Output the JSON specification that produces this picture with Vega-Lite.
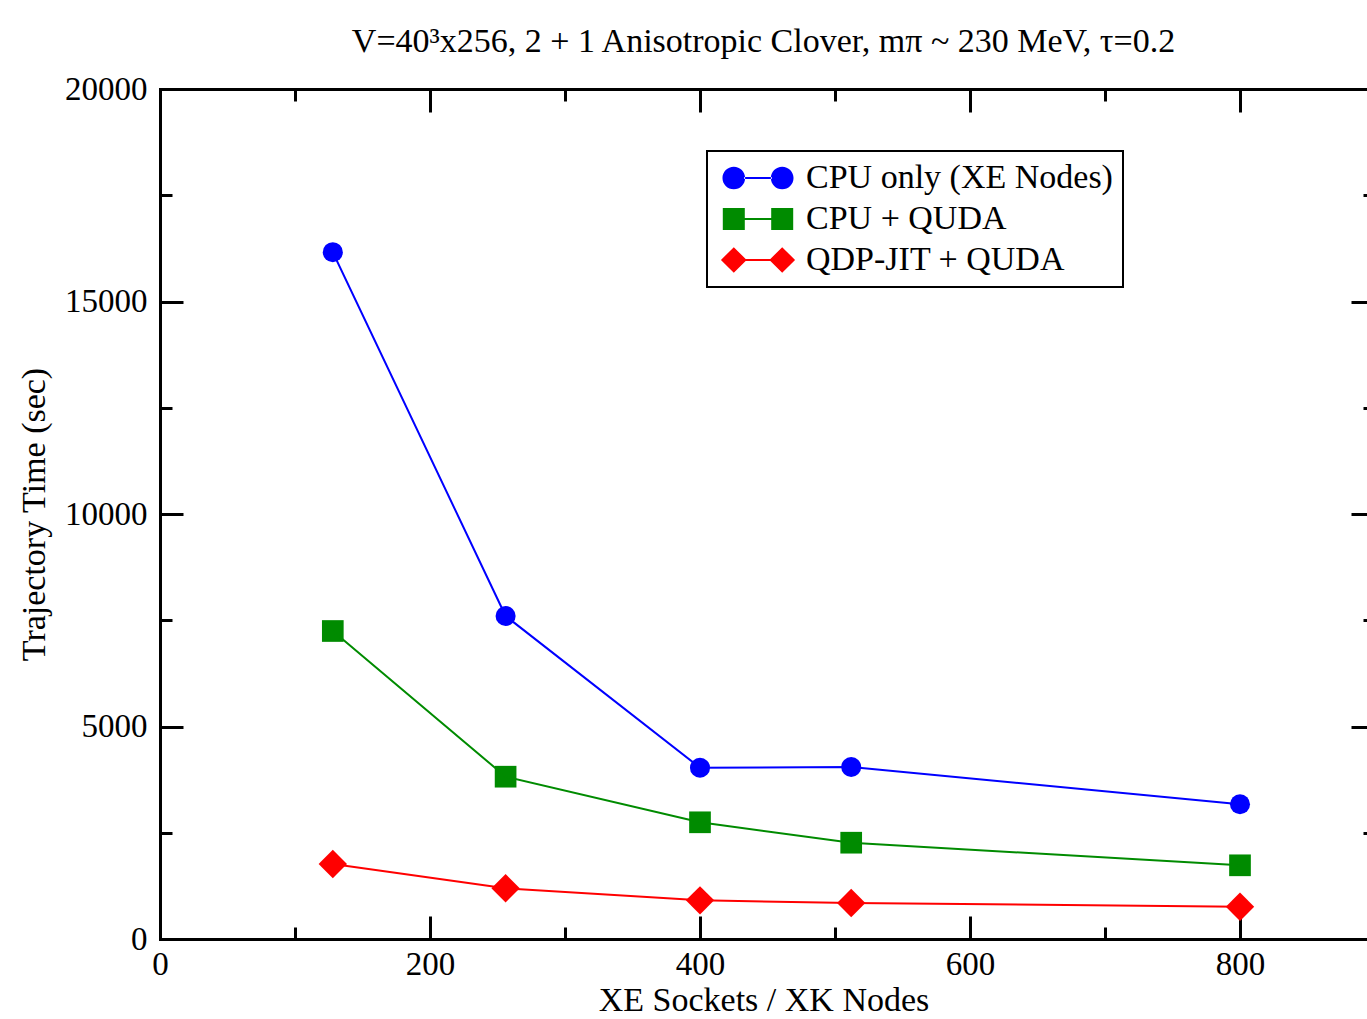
{
  "$schema": "https://vega.github.io/schema/vega-lite/v6.json",
  "autosize": "none",
  "padding": {"left": 160, "top": 89, "right": 0, "bottom": 80},
  "width": 1207,
  "height": 850,
  "background": "white",
  "title": {
    "text": "V=40³x256, 2 + 1 Anisotropic Clover, mπ ~ 230 MeV, τ=0.2",
    "anchor": "middle",
    "frame": "group",
    "fontSize": 34,
    "fontWeight": "normal",
    "font": "Liberation Serif",
    "color": "black",
    "baseline": "alphabetic",
    "offset": -13
  },
  "data": {
    "values": [
      {"nodes": 128, "time": 16160, "series": "CPU only (XE Nodes)"},
      {"nodes": 256, "time": 7600, "series": "CPU only (XE Nodes)"},
      {"nodes": 400, "time": 4030, "series": "CPU only (XE Nodes)"},
      {"nodes": 512, "time": 4047, "series": "CPU only (XE Nodes)"},
      {"nodes": 800, "time": 3170, "series": "CPU only (XE Nodes)"},
      {"nodes": 128, "time": 7247, "series": "CPU + QUDA"},
      {"nodes": 256, "time": 3819, "series": "CPU + QUDA"},
      {"nodes": 400, "time": 2746, "series": "CPU + QUDA"},
      {"nodes": 512, "time": 2266, "series": "CPU + QUDA"},
      {"nodes": 800, "time": 1734, "series": "CPU + QUDA"},
      {"nodes": 128, "time": 1765, "series": "QDP-JIT + QUDA"},
      {"nodes": 256, "time": 1193, "series": "QDP-JIT + QUDA"},
      {"nodes": 400, "time": 910, "series": "QDP-JIT + QUDA"},
      {"nodes": 512, "time": 847, "series": "QDP-JIT + QUDA"},
      {"nodes": 800, "time": 760, "series": "QDP-JIT + QUDA"}
    ]
  },
  "resolve": {"axis": {"x": "independent", "y": "independent"}},
  "layer": [
    {
      "transform": [{"filter": "datum.series === 'CPU only (XE Nodes)'"}],
      "mark": {"type": "point", "filled": true, "opacity": 1, "shape": "circle", "size": 402},
      "encoding": {
        "x": {
          "field": "nodes", "type": "quantitative",
          "scale": {"domain": [0, 894.07], "nice": false, "zero": false},
          "axis": {"orient": "bottom", "values": [0, 200, 400, 600, 800], "ticks": false, "labelPadding": 9, "title": "XE Sockets / XK Nodes", "titlePadding": 2, "format": "d"}
        },
        "y": {
          "field": "time", "type": "quantitative",
          "scale": {"domain": [0, 20000], "nice": false, "zero": false},
          "axis": {"orient": "left", "values": [0, 5000, 10000, 15000, 20000], "ticks": false, "labelPadding": 13, "title": "Trajectory Time (sec)", "titlePadding": 13, "format": "d"}
        },
        "color": {
          "field": "series", "type": "nominal",
          "scale": {"domain": ["CPU only (XE Nodes)", "CPU + QUDA", "QDP-JIT + QUDA"], "range": ["#0000ff", "#008b00", "#ff0000"]},
          "legend": {
            "orient": "none", "legendX": 547, "legendY": 62,
            "title": null,
            "symbolSize": 484,
            "symbolOffset": 24,
            "labelOffset": 31,
            "rowPadding": 7,
            "labelFontSize": 34,
            "labelFont": "Liberation Serif",
            "labelColor": "black",
            "labelLimit": 600,
            "symbolStrokeWidth": 0,
            "symbolOpacity": 1,
            "symbolType": {"expr": "datum.value === 'CPU only (XE Nodes)' ? 'M-3.23,0 A1.03,1.03 0 1,0 -1.17,0 A1.03,1.03 0 1,0 -3.23,0 Z M1.17,0 A1.03,1.03 0 1,0 3.23,0 A1.03,1.03 0 1,0 1.17,0 Z M-1.25,-0.09 L1.25,-0.09 L1.25,0.09 L-1.25,0.09 Z' : datum.value === 'CPU + QUDA' ? 'M-3.2,-1 L-1.2,-1 L-1.2,1 L-3.2,1 Z M1.2,-1 L3.2,-1 L3.2,1 L1.2,1 Z M-1.25,-0.09 L1.25,-0.09 L1.25,0.09 L-1.25,0.09 Z' : 'M-3.37,0 L-2.2,-1.17 L-1.03,0 L-2.2,1.17 Z M1.03,0 L2.2,-1.17 L3.37,0 L2.2,1.17 Z M-1.1,-0.09 L1.1,-0.09 L1.1,0.09 L-1.1,0.09 Z'"}
          }
        }
      }
    },
    {
      "transform": [{"filter": "datum.series === 'CPU + QUDA'"}],
      "mark": {"type": "point", "filled": true, "opacity": 1, "shape": "square", "size": 470},
      "encoding": {
        "x": {"field": "nodes", "type": "quantitative",
          "axis": {"orient": "bottom", "values": [0, 200, 400, 600, 800], "tickSize": -23, "labels": false, "domain": false, "title": null}},
        "y": {"field": "time", "type": "quantitative",
          "axis": {"orient": "left", "values": [0, 5000, 10000, 15000, 20000], "tickSize": -23, "labels": false, "domain": false, "title": null}},
        "color": {"field": "series", "type": "nominal", "legend": null}
      }
    },
    {
      "transform": [{"filter": "datum.series === 'QDP-JIT + QUDA'"}],
      "mark": {"type": "point", "filled": true, "opacity": 1, "shape": "diamond", "size": 806},
      "encoding": {
        "x": {"field": "nodes", "type": "quantitative",
          "axis": {"orient": "bottom", "values": [100, 300, 500, 700], "tickSize": -12, "labels": false, "domain": false, "title": null}},
        "y": {"field": "time", "type": "quantitative",
          "axis": {"orient": "left", "values": [2500, 7500, 12500, 17500], "tickSize": -12, "labels": false, "domain": false, "title": null}},
        "color": {"field": "series", "type": "nominal", "legend": null}
      }
    },
    {
      "mark": {"type": "line", "strokeWidth": 2},
      "encoding": {
        "x": {"field": "nodes", "type": "quantitative",
          "axis": {"orient": "top", "values": [0, 200, 400, 600, 800], "tickSize": -23, "labels": false, "domain": true, "title": null}},
        "y": {"field": "time", "type": "quantitative",
          "axis": {"orient": "right", "values": [0, 5000, 10000, 15000, 20000], "tickSize": -16, "labels": false, "domain": false, "title": null}},
        "color": {"field": "series", "type": "nominal", "legend": null}
      }
    },
    {
      "mark": {"type": "point", "opacity": 0},
      "encoding": {
        "x": {"field": "nodes", "type": "quantitative",
          "axis": {"orient": "top", "values": [100, 300, 500, 700], "tickSize": -12, "labels": false, "domain": false, "title": null}},
        "y": {"field": "time", "type": "quantitative",
          "axis": {"orient": "right", "values": [2500, 7500, 12500, 17500], "tickSize": -4, "labels": false, "domain": false, "title": null}}
      }
    }
  ],
  "config": {
    "view": {"stroke": null},
    "font": "Liberation Serif",
    "axis": {
      "grid": false,
      "domainColor": "black",
      "domainWidth": 3,
      "domainCap": "square",
      "tickColor": "black",
      "tickWidth": 3,
      "labelColor": "black",
      "labelFont": "Liberation Serif",
      "labelFontSize": 33,
      "titleFont": "Liberation Serif",
      "titleFontSize": 34,
      "titleFontWeight": "normal",
      "titleColor": "black",
      "labelFlush": false,
      "labelOverlap": false
    },
    "legend": {
      "strokeColor": "black",
      "strokeWidth": 2,
      "padding": 10,
      "fillColor": "white"
    }
  }
}
